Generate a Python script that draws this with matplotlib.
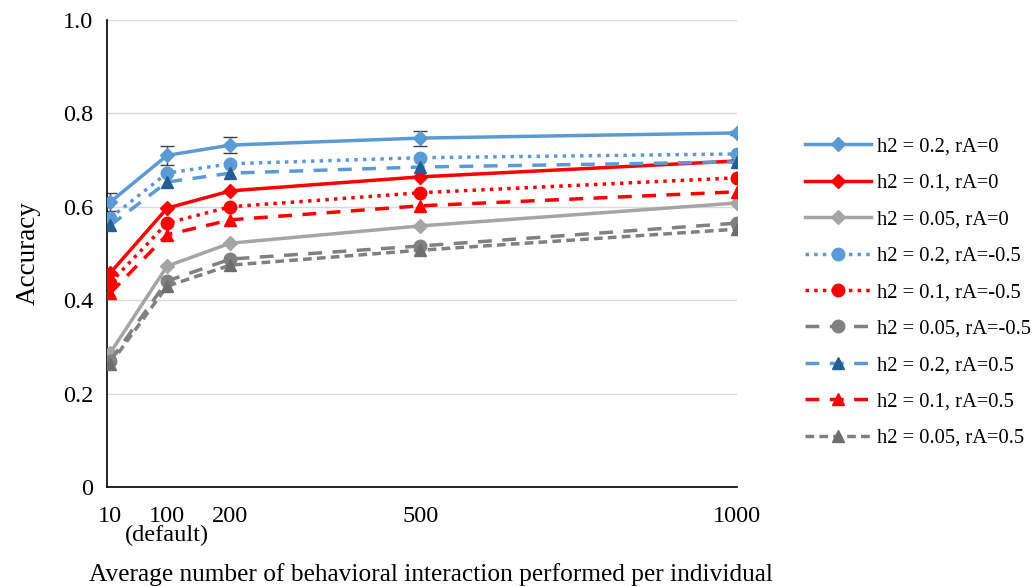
import numpy as np
from matplotlib import pyplot as plt

plt.rcParams["font.family"] = ["Liberation Serif", "DejaVu Serif"]

n_inter = [10, 100, 200, 500, 1000]
tick_labels = ["10", "100\n(default)", "200", "500", "1000"]

# accuracy per scenario
h02_r0 = [0.610, 0.710, 0.732, 0.747, 0.758]
h01_r0 = [0.458, 0.597, 0.634, 0.664, 0.698]
h005_r0 = [0.287, 0.473, 0.522, 0.559, 0.608]
h02_rneg = [0.576, 0.672, 0.692, 0.705, 0.713]
h01_rneg = [0.437, 0.565, 0.600, 0.630, 0.662]
h005_rneg = [0.270, 0.441, 0.488, 0.516, 0.565]
h02_rpos = [0.560, 0.653, 0.672, 0.685, 0.696]
h01_rpos = [0.415, 0.540, 0.572, 0.602, 0.632]
h005_rpos = [0.263, 0.430, 0.475, 0.507, 0.552]
h02_r0_err = [0.020, 0.021, 0.018, 0.016, 0.004]

blue = "#5B9BD5"
dblue = "#255E91"
red = "#FF0000"
lgray = "#A5A5A5"
mgray = "#808080"
dgray = "#6E6E6E"

series = [
    ("h2 = 0.2, rA=0", h02_r0, blue, blue, "D", "-"),
    ("h2 = 0.1, rA=0", h01_r0, red, red, "D", "-"),
    ("h2 = 0.05, rA=0", h005_r0, lgray, lgray, "D", "-"),
    ("h2 = 0.2, rA=-0.5", h02_rneg, blue, blue, "o", (0, (1, 1.5))),
    ("h2 = 0.1, rA=-0.5", h01_rneg, red, red, "o", (0, (1, 1.5))),
    ("h2 = 0.05, rA=-0.5", h005_rneg, mgray, mgray, "o", (0, (4, 3))),
    ("h2 = 0.2, rA=0.5", h02_rpos, blue, dblue, "^", (0, (4, 3))),
    ("h2 = 0.1, rA=0.5", h01_rpos, red, red, "^", (0, (4, 3))),
    ("h2 = 0.05, rA=0.5", h005_rpos, mgray, dgray, "^", (0, (2.5, 1.5))),
]

fig = plt.figure(figsize=(10.35, 5.86), dpi=100)
ax = fig.add_axes([0.1034, 0.169, 0.6087, 0.797])

ax.errorbar(n_inter, h02_r0, yerr=h02_r0_err, fmt="none", ecolor="#404040",
            elinewidth=1, capsize=5, capthick=1, zorder=1)
for label, vals, col, mcol, mk, ls in series:
    ms = {"D": 7, "o": 9, "^": 8.5}[mk]
    ax.plot(n_inter, vals, color=col, linestyle=ls, linewidth=2.5,
            marker=mk, markersize=ms, markerfacecolor=mcol,
            markeredgecolor=mcol, label=label, zorder=3)

ax.set_xlim(5, 1000)
ax.set_ylim(0, 1.0)
ax.set_yticks([0, 0.2, 0.4, 0.6, 0.8, 1.0])
ax.set_yticklabels(["0", "0.2", "0.4", "0.6", "0.8", "1.0"])
ax.set_xticks(n_inter)
ax.set_xticklabels(tick_labels, linespacing=0.85)
ax.tick_params(length=0, labelsize=17.5, pad=14)
ax.tick_params(axis="y", pad=10)
ax.grid(axis="y", color="#D9D9D9", linewidth=1)
ax.set_axisbelow(True)
for s in ["top", "right"]:
    ax.spines[s].set_visible(False)
for s in ["left", "bottom"]:
    ax.spines[s].set_linewidth(1.2)

ax.set_ylabel("Accuracy", fontsize=19.5, labelpad=16)
ax.set_xlabel("Average number of behavioral interaction performed per individual",
              fontsize=18.3, labelpad=12, x=0.514)

ax.legend(loc="upper left", bbox_to_anchor=(1.095, 0.767), frameon=False,
          fontsize=14.8, handlelength=3.2, handletextpad=0.3,
          labelspacing=0.83, borderaxespad=0)

fig.savefig("out.png", dpi=100)
